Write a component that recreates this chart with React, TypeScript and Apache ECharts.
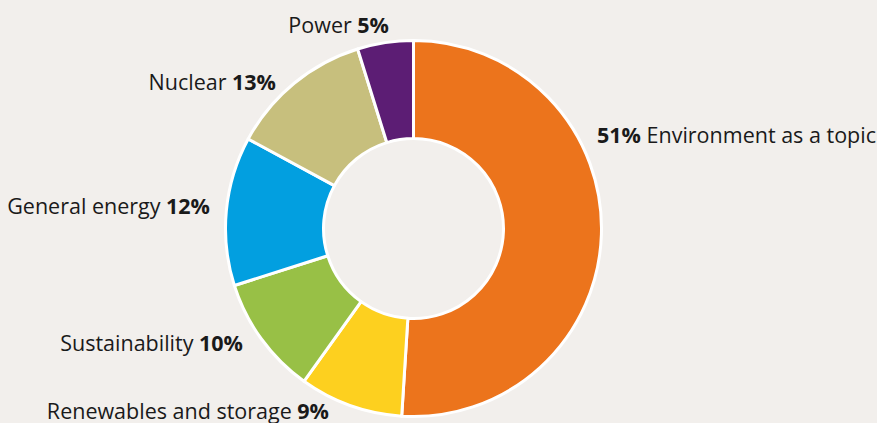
import React, { useEffect, useRef } from "react";
import * as echarts from "echarts";

const categories = ["Environment as a topic", "Renewables and storage", "Sustainability", "General energy", "Nuclear", "Power"];
// slice sizes
const values = [51, 8.9, 10.2, 12.8, 12.3, 4.8];
// percentages as printed in the labels
const percentLabels = [51, 9, 10, 12, 13, 5];
const colors = ["#ec741c", "#fdd01f", "#98c046", "#029fe0", "#c7bf7d", "#5c1d74"];
// label anchor points (px) and alignment, per slice
const labelAnchors: [number, number, string][] = [
  [597, 134, "left"],
  [329, 410, "right"],
  [243, 342, "right"],
  [210, 205, "right"],
  [276, 81, "right"],
  [389, 24, "right"],
];

const FONT = "Open Sans";
const SIZE = 21.5;

export default function App() {
  const ref = useRef<HTMLDivElement>(null);
  useEffect(() => {
    document.body.style.margin = "0";
    const chart = echarts.init(ref.current!, null, { renderer: "svg" });
    chart.setOption({
      animation: false,
      backgroundColor: "#f2efec",
      series: [
        {
          type: "pie",
          center: [413.5, 228.5],
          radius: [90, 188],
          startAngle: 90,
          clockwise: true,
          itemStyle: { borderColor: "#ffffff", borderWidth: 3 },
          labelLine: { show: false },
          label: {
            show: true,
            position: "outside",
            overflow: "none",
            bleedMargin: 0,
            edgeDistance: 0,
            color: "#1a1a1a",
            fontFamily: FONT,
            fontSize: SIZE,
            formatter: (p: any) =>
              p.dataIndex === 0
                ? `{b|${percentLabels[p.dataIndex]}%}{a| ${p.name}}`
                : `{a|${p.name} }{b|${percentLabels[p.dataIndex]}%}`,
            rich: {
              a: { fontFamily: FONT, fontSize: SIZE, color: "#1a1a1a" },
              b: { fontFamily: FONT, fontSize: SIZE, fontWeight: "bold", color: "#1a1a1a" },
            },
          },
          labelLayout: (params: any) => {
            const a = labelAnchors[params.dataIndex];
            return { x: a[0], y: a[1], align: a[2], verticalAlign: "middle" };
          },
          data: categories.map((c, i) => ({ name: c, value: values[i], itemStyle: { color: colors[i] } })),
        },
      ],
    });
    return () => chart.dispose();
  }, []);
  return <div ref={ref} style={{ width: 877, height: 423 }} />;
}
